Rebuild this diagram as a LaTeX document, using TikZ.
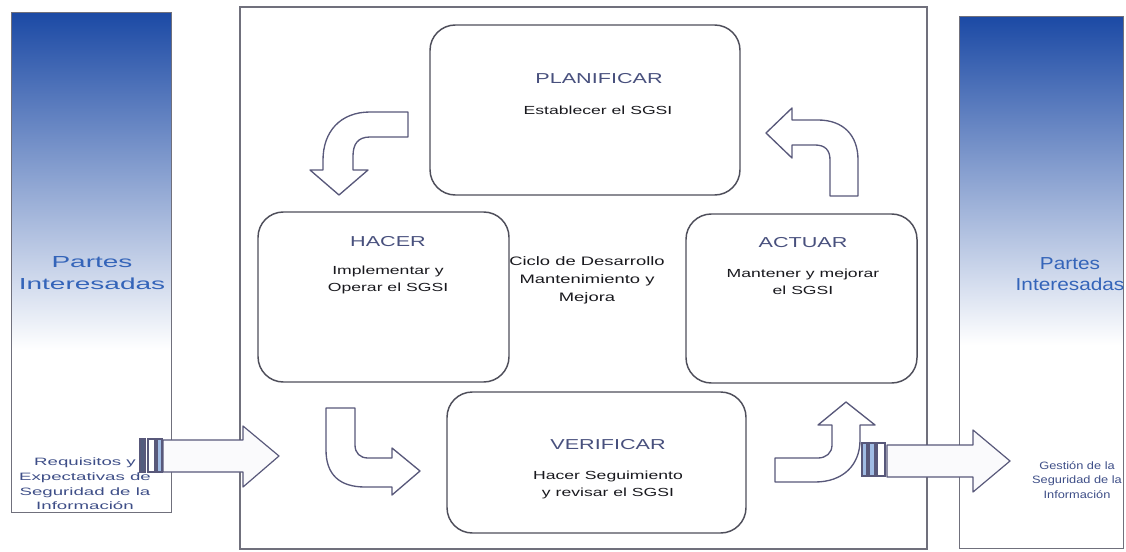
\documentclass[tikz,border=0pt]{standalone}
\usepackage{fontspec}
\setmainfont{Liberation Sans}[FakeStretch=1.5]
\newfontfamily\widesans{Liberation Sans}[FakeStretch=1.75]
\newfontfamily\narrowsans{Liberation Sans}[FakeStretch=1.2]
\definecolor{frameline}{RGB}{112,112,124}
\definecolor{stageline}{RGB}{78,78,90}
\definecolor{arrowline}{RGB}{88,88,122}
\definecolor{headtext}{RGB}{72,80,125}
\definecolor{bodytext}{RGB}{25,25,30}
\definecolor{partesblue}{RGB}{52,100,185}
\definecolor{captionblue}{RGB}{62,78,135}
\definecolor{panelblue}{RGB}{28,74,165}
\definecolor{panelmid}{RGB}{82,136,214}
\definecolor{bardark}{RGB}{82,92,125}
\definecolor{barlight}{RGB}{160,188,228}
\tikzset{every picture/.style={line width=0.75pt}}

\begin{document}
\begin{tikzpicture}[x=0.75pt,y=0.75pt,yscale=-1,
	stage/.style={draw=stageline, line width=1.1pt, rounded corners=19pt},
	heading/.style={inner sep=0.75pt, text=headtext, font=\fontsize{10.8}{13}\selectfont},
	body/.style={inner sep=0.75pt, align=center, text=bodytext, font=\fontsize{8.8}{12.8}\selectfont},
	partes/.style={inner sep=0.75pt, align=center, text=partesblue},
	caption/.style={inner sep=0.75pt, align=center, text=captionblue},
	bendarrow/.style={draw=arrowline, fill=white, line width=1pt, line join=round},
	flowarrow/.style={draw=arrowline, fill={rgb, 255:red, 250; green, 250; blue, 252 }, line width=0.9pt, line join=round},
	bar/.style={draw=arrowline, line width=0.8pt}]
			\useasboundingbox (0,0) rectangle (1126,552);
			\shade [top color=panelblue, middle color=panelmid, bottom color=white] (11,13) rectangle (171,350);
			\draw [draw=frameline] (11,13) rectangle (171,512);
			\shade [top color=panelblue, middle color=panelmid, bottom color=white] (959,17) rectangle (1123,345);
			\draw [draw=frameline] (959,17) rectangle (1123,548);
			\draw [draw=frameline, line width=1pt] (240,7) rectangle (927,549);
			\draw [stage] (430,25) rectangle (740,195);
			\draw [stage] (258,212) rectangle (509,382);
			\draw [stage] (686,214) rectangle (917,383);
			\draw [stage] (447,392) rectangle (746,533);
			\draw (599,79) node [heading] (plan) {PLANIFICAR};
			\draw (598,110) node [body] (plantxt) {Establecer el SGSI};
			\draw (388,242) node [heading] (hacer) {HACER};
			\draw (388,280) node [body] (hacertxt) {Implementar y\\Operar el SGSI};
			\draw (587,280) node [body, font=\fontsize{9.2}{13.5}\selectfont] (ciclo) {Ciclo de Desarrollo\\Mantenimiento y\\Mejora};
			\draw (803,243) node [heading] (actuar) {ACTUAR};
			\draw (803,282) node [body] (actuartxt) {Mantener y mejorar\\el SGSI};
			\draw (608,445) node [heading] (verif) {VERIFICAR};
			\draw (608,485) node [body] (veriftxt) {Hacer Seguimiento\\y revisar el SGSI};
			\draw (92,273) node [partes, font=\widesans\fontsize{12}{16.5}\selectfont] (partesizq) {Partes\\Interesadas};
			\draw (85,484) node [caption, font=\widesans\fontsize{8}{11}\selectfont] (requisitos) {Requisitos y\\Expectativas de\\Seguridad de la\\Información};
			\draw (1070,274) node [partes, font=\narrowsans\fontsize{13}{16}\selectfont] (partesder) {Partes\\Interesadas};
			\draw (1077,480) node [caption, font=\narrowsans\fontsize{8}{11}\selectfont] (gestion) {Gestión de la\\Seguridad de la\\Información};
			\draw [bendarrow] (408,112) -- (370,112) .. controls (340,112) and (323,132) .. (323,160) -- (323,170) -- (310,170) -- (339,195) -- (368,170) -- (353,170) -- (353,156) .. controls (353,144) and (358,137) .. (370,137) -- (408,137) -- cycle;
			\draw [bendarrow] (326,408) -- (326,450) .. controls (326,475) and (340,487) .. (365,487) -- (392,487) -- (392,495) -- (420,471) -- (392,448) -- (392,458) -- (368,458) .. controls (360,458) and (355,453) .. (355,445) -- (355,408) -- cycle;
			\draw [bendarrow] (775,482) -- (815,482) .. controls (843,482) and (860,465) .. (860,440) -- (860,425) -- (875,425) -- (846,402) -- (818,425) -- (832,425) -- (832,445) .. controls (832,453) and (826,458) .. (818,458) -- (775,458) -- cycle;
			\draw [bendarrow] (858,196) -- (858,160) .. controls (858,135) and (843,120) .. (818,120) -- (792,120) -- (792,108) -- (766,133) -- (792,158) -- (792,145) -- (815,145) .. controls (825,145) and (830,150) .. (830,160) -- (830,196) -- cycle;
			\draw [bar, fill=bardark] (140,439) rectangle (145,472);
			\draw [bar, fill=white] (148,439) rectangle (155,472);
			\draw [bar, fill=barlight] (157,439) rectangle (162,472);
			\draw [flowarrow] (163,440) -- (243,440) -- (243,426) -- (279,456) -- (243,487) -- (243,472) -- (163,472) -- cycle;
			\draw [bar, fill=barlight] (862,443) rectangle (867,476);
			\draw [bar, fill=barlight] (869,443) rectangle (875,476);
			\draw [bar, fill=white] (877,443) rectangle (885,476);
			\draw [flowarrow] (887,445) -- (973,445) -- (973,430) -- (1010,461) -- (973,492) -- (973,477) -- (887,477) -- cycle;
\end{tikzpicture}
\end{document}
